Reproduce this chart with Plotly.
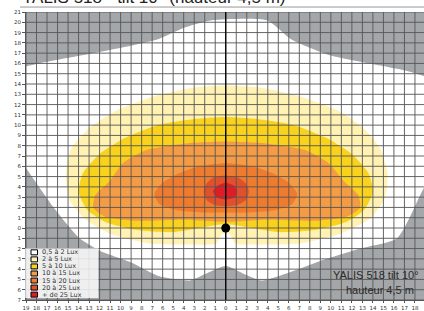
import plotly.graph_objects as go

# ---- data (isolux boundaries, in metres) ----
levels = ["0,5 à 2 Lux", "2 à 5 Lux", "5 à 10 Lux", "10 à 15 Lux", "15 à 20 Lux", "20 à 25 Lux", "+ de 25 Lux"]
colors = ["#ffffff", "#fff2b3", "#f8d21c", "#f39c45", "#ef7b2e", "#e0502a", "#e01b25"]

lux_05_x = [-1.3, 3.9, 6.3, 9.9, 14.7, 17.5, 19.4, 19.4, 18.5, 16.3, 12.8, 9.0, 6.1, 3.4, 1.8, 0.0, -2.0, -3.4, -6.3, -9.1, -12.0, -13.9, -16.3, -19.05, -19.6, -19.6, -17.7, -12.0, -6.6, -3.9]
lux_05_y = [20.2, 20.2, 18.3, 16.8, 15.8, 15.2, 14.4, 5.2, 3.2, -1.0, -2.0, -3.2, -4.3, -5.1, -4.5, -3.7, -4.5, -5.1, -4.7, -3.3, -2.2, -1.0, 1.9, 5.9, 6.7, 15.4, 16.0, 17.1, 18.3, 19.5]

lux_2_x = [0.0, 3.2, 7.0, 10.9, 13.2, 14.7, 15.4, 15.1, 13.7, 10.9, 7.0, 3.2, 0.9, 0.4, -0.4, -0.9, -3.4, -7.2, -11.0, -13.4, -14.9, -15.2, -14.7, -13.1, -10.6, -6.8, -3.0]
lux_2_y = [13.85, 13.65, 12.8, 11.3, 9.6, 7.7, 5.25, 2.8, 0.9, -0.55, -1.5, -1.6, -1.5, -0.6, -0.6, -1.5, -1.6, -1.5, -0.55, 0.9, 2.8, 5.25, 7.7, 9.6, 11.3, 12.8, 13.65]

lux_5_x = [0.0, 3.0, 6.5, 9.5, 12.0, 13.6, 14.0, 13.2, 11.5, 8.5, 5.0, 2.0, 0.0, -2.0, -5.0, -8.5, -11.5, -13.2, -14.0, -13.6, -12.0, -9.5, -6.5, -3.0]
lux_5_y = [10.8, 10.6, 10.0, 8.8, 7.2, 5.3, 3.5, 1.8, 0.6, -0.2, -0.4, 0.1, 0.4, 0.1, -0.4, -0.2, 0.6, 1.8, 3.5, 5.3, 7.2, 8.8, 10.0, 10.6]

lux_10_x = [0.0, 4.0, 7.5, 9.8, 11.2, 12.6, 12.8, 11.5, 8.5, 4.0, 0.0, -4.0, -8.5, -11.5, -12.6, -12.4, -11.0, -9.8, -7.5, -4.0]
lux_10_y = [8.4, 8.2, 7.6, 6.3, 4.6, 3.2, 2.0, 1.1, 0.7, 0.8, 0.6, 0.8, 0.7, 1.1, 2.0, 3.2, 4.6, 6.3, 7.6, 8.2]

lux_15_x = [0.0, 2.5, 4.5, 6.0, 6.8, 6.3, 4.5, 2.0, 0.0, -2.0, -4.5, -6.3, -6.8, -6.0, -4.5, -2.5]
lux_15_y = [6.3, 6.0, 5.3, 4.4, 3.3, 2.3, 1.7, 1.5, 1.5, 1.5, 1.7, 2.3, 3.3, 4.4, 5.3, 6.0]

lux_20_x = [0.0, 1.2, 2.0, 2.2, 1.9, 1.0, 0.0, -1.0, -1.8, -2.1, -1.9, -1.2]
lux_20_y = [5.1, 4.9, 4.2, 3.5, 2.7, 2.2, 2.1, 2.2, 2.7, 3.5, 4.2, 4.9]

lux_25_x = [0.0, 0.8, 1.1, 0.9, 0.0, -0.9, -1.2, -0.8]
lux_25_y = [4.4, 4.1, 3.6, 3.0, 2.8, 3.0, 3.6, 4.1]

pole_x = [0]
pole_y = [0]

x_ticks = list(range(-19, 20))
y_ticks = list(range(-7, 22))
x_ticktext = [str(abs(v)) for v in x_ticks]
y_ticktext = [str(abs(v)) for v in y_ticks]

title_text = "YALIS 518 - tilt 10° (hauteur 4,5 m)"
note_lines = ["YALIS 518 tilt 10°", "hauteur 4,5 m"]

# ---- figure ----
fig = go.Figure()
polys = [(lux_05_x, lux_05_y), (lux_2_x, lux_2_y), (lux_5_x, lux_5_y), (lux_10_x, lux_10_y),
         (lux_15_x, lux_15_y), (lux_20_x, lux_20_y), (lux_25_x, lux_25_y)]
for (px, py), name, col in zip(polys, levels, colors):
    fig.add_trace(go.Scatter(x=px + [px[0]], y=py + [py[0]], fill="toself", fillcolor=col,
                             mode="lines", line=dict(color=col, width=0, shape="spline", smoothing=0.6),
                             name=name, showlegend=False, hoverinfo="skip"))

# grid on top of the fills
gx, gy = [], []
for v in x_ticks:
    gx += [v, v, None]
    gy += [y_ticks[0], y_ticks[-1], None]
for v in y_ticks:
    gx += [x_ticks[0], x_ticks[-1], None]
    gy += [v, v, None]
fig.add_trace(go.Scatter(x=gx, y=gy, mode="lines", line=dict(color="#555555", width=0.9),
                         showlegend=False, hoverinfo="skip"))
fig.add_trace(go.Scatter(x=[0, 0], y=[y_ticks[0], y_ticks[-1]], mode="lines",
                         line=dict(color="#000000", width=1.3), showlegend=False, hoverinfo="skip"))
fig.add_trace(go.Scatter(x=pole_x, y=pole_y, mode="markers", marker=dict(color="#000000", size=9),
                         showlegend=False, hoverinfo="skip"))

fig.update_xaxes(range=[-19, 18.86], tickvals=x_ticks, ticktext=x_ticktext, showgrid=False,
                 zeroline=False, ticks="outside", ticklen=2, tickcolor="#555",
                 tickfont=dict(family="DejaVu Sans", size=5.5, color="#333"),
                 showline=True, linecolor="#555", linewidth=1)
fig.update_yaxes(range=[-7, 21], tickvals=y_ticks, ticktext=y_ticktext, showgrid=False,
                 zeroline=False, ticks="outside", ticklen=3, tickcolor="#555",
                 tickfont=dict(family="DejaVu Sans", size=5.5, color="#333"),
                 showline=True, linecolor="#555", linewidth=1)

shapes = []
annotations = []
# manual legend
shapes.append(dict(type="rect", xref="paper", yref="paper", x0=-0.002, x1=0.182,
                   y0=(302 - 300) / 290, y1=(302 - 250) / 290,
                   fillcolor="rgba(255,255,255,0.82)", line=dict(width=0), layer="above"))
for i, (name, col) in enumerate(zip(levels, colors)):
    cy = 254 + 7.1 * i
    shapes.append(dict(type="rect", xref="paper", yref="paper",
                       x0=(31 - 26) / 398, x1=(37.5 - 26) / 398,
                       y0=(302 - (cy + 2.5)) / 290, y1=(302 - (cy - 2.5)) / 290,
                       fillcolor=col, line=dict(color="#000", width=1), layer="above"))
    annotations.append(dict(xref="paper", yref="paper", x=(40 - 26) / 398, y=(302 - cy) / 290,
                            text=name, showarrow=False, xanchor="left", yanchor="middle",
                            font=dict(family="DejaVu Sans", size=6.5, color="#333")))
# note bottom right
annotations.append(dict(xref="paper", yref="paper", x=(421 - 26) / 398, y=(302 - 277) / 290,
                        text=note_lines[0], showarrow=False, xanchor="right", yanchor="middle",
                        font=dict(family="Liberation Sans", size=11, color="#2a2a2a")))
annotations.append(dict(xref="paper", yref="paper", x=(416 - 26) / 398, y=(302 - 292) / 290,
                        text=note_lines[1], showarrow=False, xanchor="right", yanchor="middle",
                        font=dict(family="Liberation Sans", size=11, color="#2a2a2a")))
# title (cut at top)
annotations.append(dict(xref="paper", yref="paper", x=(20 - 26) / 398, y=(302 - 9) / 290,
                        text=title_text, showarrow=False, xanchor="left", yanchor="bottom",
                        font=dict(family="Liberation Sans", size=17, color="#222")))
shapes.append(dict(type="line", xref="paper", yref="paper", x0=(20 - 26) / 398, x1=1.0,
                   y0=(302 - 7) / 290, y1=(302 - 7) / 290, line=dict(color="#999", width=1)))

fig.update_layout(width=424, height=311, margin=dict(l=26, r=0, t=12, b=9),
                  plot_bgcolor="#a4a7a9", paper_bgcolor="#ffffff",
                  shapes=shapes, annotations=annotations, showlegend=False)

fig.write_html("out.html", config={"displayModeBar": False},
               post_script="document.body.style.margin='0px';")
